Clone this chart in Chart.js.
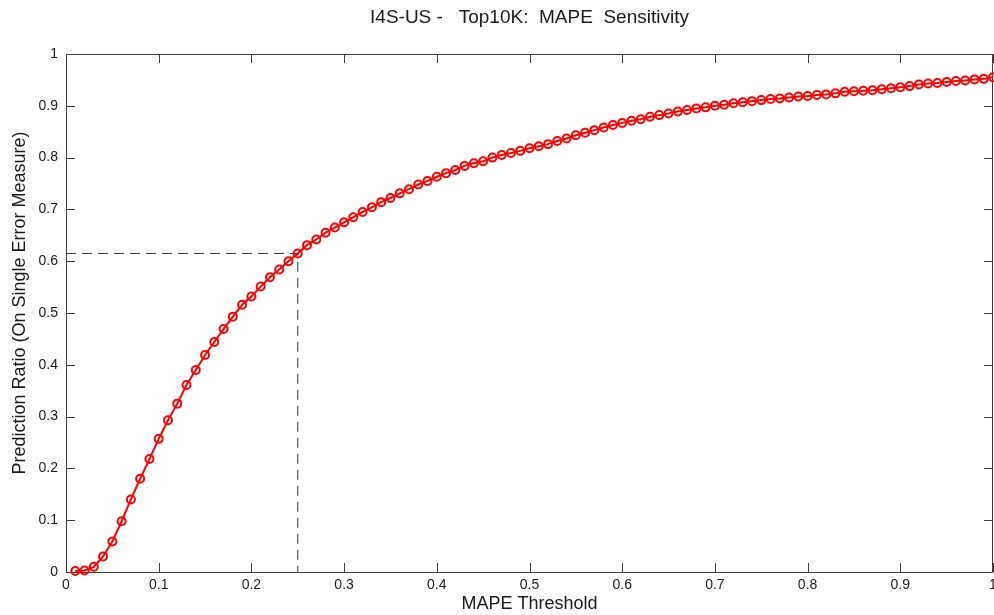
<!DOCTYPE html>
<html>
<head>
<meta charset="utf-8">
<script src="https://cdn.jsdelivr.net/npm/chart.js@4"></script>
<style>
  body { margin: 0; background: #fff; }
  #wrap { width: 994px; height: 615px; }
</style>
</head>
<body>
<div id="wrap"><canvas id="theChart"></canvas></div>
<script>
// MAPE threshold (x) and prediction ratio (y)
const thresholds = [
  0.01, 0.02, 0.03, 0.04, 0.05, 0.06, 0.07, 0.08, 0.09, 0.10,
  0.11, 0.12, 0.13, 0.14, 0.15, 0.16, 0.17, 0.18, 0.19, 0.20,
  0.21, 0.22, 0.23, 0.24, 0.25, 0.26, 0.27, 0.28, 0.29, 0.30,
  0.31, 0.32, 0.33, 0.34, 0.35, 0.36, 0.37, 0.38, 0.39, 0.40,
  0.41, 0.42, 0.43, 0.44, 0.45, 0.46, 0.47, 0.48, 0.49, 0.50,
  0.51, 0.52, 0.53, 0.54, 0.55, 0.56, 0.57, 0.58, 0.59, 0.60,
  0.61, 0.62, 0.63, 0.64, 0.65, 0.66, 0.67, 0.68, 0.69, 0.70,
  0.71, 0.72, 0.73, 0.74, 0.75, 0.76, 0.77, 0.78, 0.79, 0.80,
  0.81, 0.82, 0.83, 0.84, 0.85, 0.86, 0.87, 0.88, 0.89, 0.90,
  0.91, 0.92, 0.93, 0.94, 0.95, 0.96, 0.97, 0.98, 0.99, 1.00
];
const predictionRatio = [
  0.002, 0.003, 0.010, 0.030, 0.059, 0.098, 0.140, 0.180, 0.218, 0.257,
  0.293, 0.325, 0.361, 0.390, 0.419, 0.444, 0.469, 0.493, 0.516, 0.532,
  0.551, 0.569, 0.584, 0.600, 0.615, 0.631, 0.642, 0.655, 0.665, 0.675,
  0.685, 0.695, 0.704, 0.714, 0.722, 0.731, 0.739, 0.748, 0.755, 0.763,
  0.770, 0.776, 0.784, 0.789, 0.793, 0.800, 0.805, 0.809, 0.813, 0.818,
  0.822, 0.826, 0.832, 0.837, 0.843, 0.848, 0.853, 0.858, 0.863, 0.867,
  0.871, 0.874, 0.879, 0.882, 0.885, 0.889, 0.892, 0.895, 0.897, 0.900,
  0.902, 0.905, 0.907, 0.909, 0.911, 0.913, 0.914, 0.916, 0.918, 0.919,
  0.921, 0.922, 0.924, 0.927, 0.928, 0.929, 0.930, 0.932, 0.934, 0.936,
  0.938, 0.941, 0.943, 0.944, 0.946, 0.948, 0.949, 0.951, 0.952, 0.955
];
// dashed guide at the chosen threshold
const cutoffX = 0.25;
const cutoffY = 0.615;

const FONT = "'Liberation Sans', Arial, sans-serif";
const TEXT = "#1a1a1a";
const AXIS = "#3c3c3c";

function tickLabel(v) {
  return Number(v.toFixed(1)).toString();
}

// MATLAB style box with inward ticks on all four sides
const matlabBox = {
  id: "matlabBox",
  beforeDatasetsDraw(chart) {
    const { ctx, chartArea: a, scales } = chart;
    const x = scales.x, y = scales.y;
    const len = 9;
    ctx.save();
    ctx.strokeStyle = AXIS;
    ctx.lineWidth = 1;
    ctx.beginPath();
    x.ticks.forEach((t) => {
      const px = Math.round(x.getPixelForValue(t.value)) + 0.5;
      ctx.moveTo(px, a.bottom);
      ctx.lineTo(px, a.bottom - len);
      ctx.moveTo(px, a.top);
      ctx.lineTo(px, a.top + len);
    });
    y.ticks.forEach((t) => {
      const py = Math.round(y.getPixelForValue(t.value)) + 0.5;
      ctx.moveTo(a.left, py);
      ctx.lineTo(a.left + len, py);
      ctx.moveTo(a.right, py);
      ctx.lineTo(a.right - len, py);
    });
    ctx.stroke();
    ctx.strokeRect(Math.round(a.left) + 0.5, Math.round(a.top) + 0.5,
      Math.round(a.width) - 1, Math.round(a.height));
    ctx.restore();
  },
};

const data = {
  datasets: [
    {
      label: "Prediction Ratio",
      data: thresholds.map((t, i) => ({ x: t, y: predictionRatio[i] })),
      borderColor: "#ff0000",
      borderWidth: 2,
      backgroundColor: "transparent",
      pointRadius: 4,
      pointBorderWidth: 2,
      pointBorderColor: "#ff0000",
      pointBackgroundColor: "transparent",
      tension: 0,
      clip: false,
    },
    {
      label: "Cutoff",
      data: [
        { x: 0, y: cutoffY },
        { x: cutoffX, y: cutoffY },
        { x: cutoffX, y: 0 },
      ],
      borderColor: "#333333",
      borderWidth: 1,
      borderDash: [10, 6],
      pointRadius: 0,
      tension: 0,
      fill: false,
    },
  ],
};

const config = {
  type: "line",
  data: data,
  options: {
    responsive: true,
    maintainAspectRatio: false,
    animation: false,
    layout: {
      autoPadding: false,
      padding: { left: 0, right: 1, top: 0, bottom: 0 },
    },
    plugins: {
      legend: { display: false },
      tooltip: { enabled: false },
    },
    scales: {
      x: {
        type: "linear",
        position: "bottom",
        min: 0,
        max: 1,
        ticks: {
          stepSize: 0.1,
          padding: 5,
          maxRotation: 0,
          color: TEXT,
          font: { family: FONT, size: 14 },
          callback: tickLabel,
        },
        grid: { display: false, drawTicks: false },
        border: { display: false },
        title: {
          display: true,
          text: "MAPE Threshold",
          color: TEXT,
          font: { family: FONT, size: 18 },
          padding: { top: 0, bottom: 0 },
        },
        afterFit(s) {
          s.height = 43;
          s.paddingLeft = 0;
          s.paddingRight = 0;
        },
      },
      x2: {
        type: "linear",
        position: "top",
        min: 0,
        max: 1,
        ticks: { display: false },
        grid: { display: false, drawTicks: false },
        border: { display: false },
        title: {
          display: true,
          text: "I4S-US -   Top10K:  MAPE  Sensitivity",
          color: TEXT,
          font: { family: FONT, size: 19 },
          padding: { top: 6, bottom: 0 },
        },
        afterFit(s) {
          s.height = 54;
          s.paddingLeft = 0;
          s.paddingRight = 0;
        },
      },
      y: {
        type: "linear",
        position: "left",
        min: 0,
        max: 1,
        ticks: {
          stepSize: 0.1,
          padding: 8,
          color: TEXT,
          font: { family: FONT, size: 14 },
          callback: tickLabel,
        },
        grid: { display: false, drawTicks: false },
        border: { display: false },
        title: {
          display: true,
          text: "    Prediction Ratio (On Single Error Measure)",
          color: TEXT,
          font: { family: FONT, size: 18 },
          padding: { top: 9, bottom: 0 },
        },
        afterFit(s) {
          s.width = 66;
          s.paddingTop = 0;
          s.paddingBottom = 0;
        },
      },
    },
  },
  plugins: [matlabBox],
};

const theChart = new Chart(document.getElementById("theChart"), config);
</script>
</body>
</html>
